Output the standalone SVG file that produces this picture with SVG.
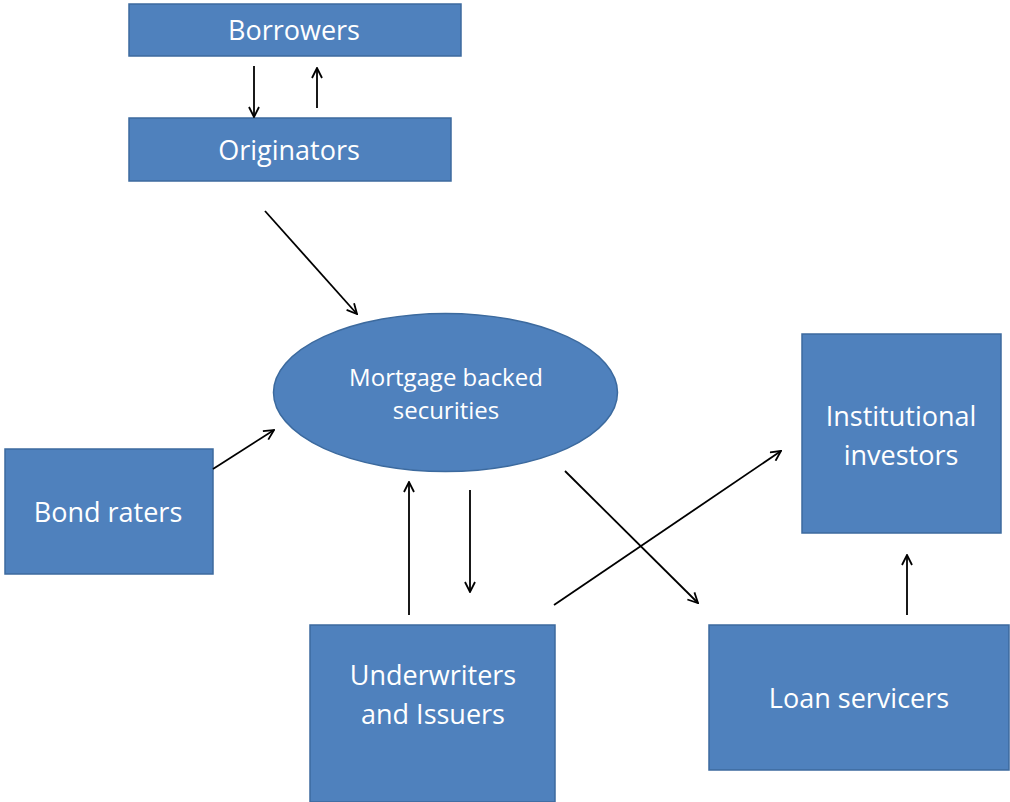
<svg xmlns="http://www.w3.org/2000/svg" width="1010" height="802" viewBox="0 0 1010 802">
<defs>
<style>
.box{fill:#4F81BD;stroke:#3C6A9E;stroke-width:1.5}
.t{fill:#FFFFFF;font-family:"Open Sans","Noto Sans",sans-serif;font-size:27px;text-anchor:middle;dominant-baseline:central}
.ts{font-size:24px}
.c line{stroke:#000;stroke-width:1.8;marker-end:url(#ah)}
</style>
<marker id="ah" viewBox="0 0 12 12" refX="11" refY="6" markerWidth="12" markerHeight="12" markerUnits="userSpaceOnUse" orient="auto">
<polyline points="1,1 11,6 1,11" fill="none" stroke="#000" stroke-width="1.8"/>
</marker>
</defs>
<rect width="1010" height="802" fill="#FFFFFF"/>
<g id="borrowers"><rect class="box" x="129" y="4" width="332" height="52"/><text class="t" x="294" y="29">Borrowers</text></g>
<g id="originators"><rect class="box" x="129" y="118" width="322" height="63"/><text class="t" x="289" y="149">Originators</text></g>
<g id="mbs"><ellipse class="box" cx="445.5" cy="392.5" rx="172" ry="79"/><text class="t ts" x="446" y="376">Mortgage backed</text><text class="t ts" x="446" y="409">securities</text></g>
<g id="bond-raters"><rect class="box" x="5" y="449" width="208" height="125"/><text class="t" x="108" y="511">Bond raters</text></g>
<g id="institutional-investors"><rect class="box" x="802" y="334" width="199" height="199"/><text class="t" x="901" y="415">Institutional</text><text class="t" x="901" y="454">investors</text></g>
<g id="underwriters"><rect class="box" x="310" y="625" width="245" height="177"/><text class="t" x="433" y="674">Underwriters</text><text class="t" x="433" y="713">and Issuers</text></g>
<g id="loan-servicers"><rect class="box" x="709" y="625" width="300" height="145"/><text class="t" x="859" y="697">Loan servicers</text></g>
<g class="c" id="connectors">
<line x1="254" y1="66" x2="254" y2="117"/>
<line x1="317" y1="108" x2="317" y2="68"/>
<line x1="265" y1="211" x2="357" y2="314"/>
<line x1="213" y1="469" x2="274" y2="430"/>
<line x1="409" y1="615" x2="409" y2="482"/>
<line x1="470" y1="490" x2="470" y2="592"/>
<line x1="554" y1="605" x2="781" y2="451"/>
<line x1="565" y1="471" x2="698" y2="603"/>
<line x1="907" y1="615" x2="907" y2="555"/>
</g>
</svg>
